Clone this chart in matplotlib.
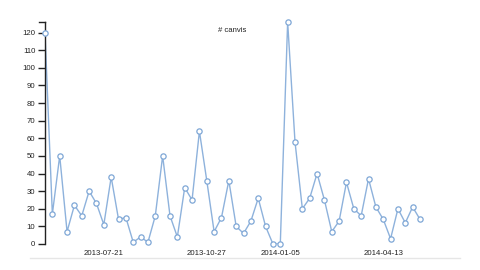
import matplotlib
matplotlib.use("Agg")
import matplotlib.pyplot as plt
import matplotlib.dates as mdates
import pandas as pd

plt.rcParams['font.family'] = ['Liberation Sans', 'DejaVu Sans']

# setmanes (una mostra per setmana)
weeks = pd.date_range("2013-05-26", periods=52, freq="7D")
canvis = [120, 17, 50, 7, 22, 16, 30, 23, 11, 38, 14, 15, 1, 4, 1, 16, 50, 16, 4, 32,
          25, 64, 36, 7, 15, 36, 10, 6, 13, 26, 10, 0, 0, 126, 58, 20, 26, 40, 25, 7,
          13, 35, 20, 16, 37, 21, 14, 3, 20, 12, 21, 14]
yticks = list(range(0, 130, 10))
xtick_labels = ["2013-07-21", "2013-10-27", "2014-01-05", "2014-04-13"]

fig = plt.figure(figsize=(4.8, 2.7), dpi=100)
ax = fig.add_axes([45 / 480, 26 / 270, 375 / 480, 222 / 270])

ax.plot(weeks, canvis, '-', color='#8eb2dc', linewidth=1, zorder=2)
ax.plot(weeks, canvis, 'o', markersize=3.8, markerfacecolor='white',
        markeredgecolor='#7fa7d6', markeredgewidth=0.9, zorder=3, clip_on=False)

ax.set_xlim(weeks[0], weeks[-1])
ax.set_ylim(0, max(canvis))

for s in ['top', 'right', 'bottom']:
    ax.spines[s].set_visible(False)
ax.spines['left'].set_color('#222222')
ax.spines['left'].set_linewidth(1)

ax.set_yticks(yticks)
ax.tick_params(axis='y', length=5, width=1, colors='#222222', labelsize=5.6, pad=2)
# outer tick at the top of the domain
ax.plot([-0.016, 0], [1, 1], transform=ax.transAxes, color='#222222', lw=1, clip_on=False)

ax.set_xticks([pd.Timestamp(d) for d in xtick_labels])
ax.xaxis.set_major_formatter(mdates.DateFormatter("%Y-%m-%d"))
ax.tick_params(axis='x', length=0, labelsize=5.6, pad=4, colors='#222222')

ax.text(0.5, 0.96, "# canvis", transform=ax.transAxes, ha='center', va='center',
        fontsize=5.6, color='#222222')

# línia separadora de la pàgina
fig.add_artist(plt.Line2D([30 / 480, 460 / 480], [12 / 270, 12 / 270],
                          color='#e6e6e6', linewidth=1))

fig.savefig("out.png", dpi=100)
